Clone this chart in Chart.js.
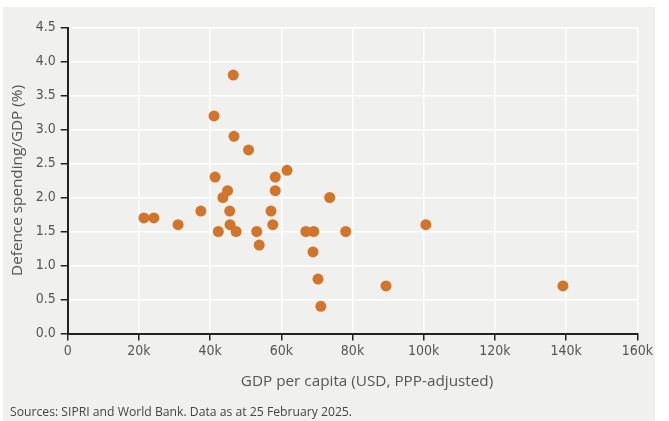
<!DOCTYPE html>
<html>
<head>
<meta charset="utf-8">
<script src="https://cdn.jsdelivr.net/npm/chart.js"></script>
<style>
  html, body { margin: 0; padding: 0; background: #fff; }
  #panel {
    position: absolute; left: 3px; top: 7px;
    width: 652px; height: 414px;
    background: #f0f0ee;
  }
  #chart { position: absolute; left: 0; top: 0; }
  #xtitle {
    position: absolute; left: 64px; top: 363px; width: 600px;
    text-align: center; line-height: 20px;
    font: 15.3px "Open Sans", sans-serif; color: #555;
    white-space: nowrap;
  }
  #source {
    position: absolute; left: 7px; top: 396px;
    font: 12.2px "Open Sans", sans-serif; color: #444;
    white-space: nowrap;
  }
</style>
</head>
<body>
<div id="panel">
  <canvas id="chart" width="652" height="414"></canvas>
  <div id="xtitle">GDP per capita (USD, PPP-adjusted)</div>
  <div id="source">Sources: SIPRI and World Bank. Data as at 25 February 2025.</div>
</div>
<script>
// one point per country: GDP per capita (USD, PPP) and defence spending as % of GDP
const gdpPerCapita = [
  21400, 24200, 31000, 37400, 41100, 41400, 42300, 43600, 44900, 46500, 46700,
  45500, 45600, 47300, 50800, 53100, 53800, 57100, 57600, 58300, 58300, 61600,
  66900, 69100, 68900, 70300, 71100, 73600, 78100, 89400, 100600, 139100
];
const defenceShare = [
  1.7, 1.7, 1.6, 1.8, 3.2, 2.3, 1.5, 2.0, 2.1, 3.8, 2.9,
  1.8, 1.6, 1.5, 2.7, 1.5, 1.3, 1.8, 1.6, 2.3, 2.1, 2.4,
  1.5, 1.5, 1.2, 0.8, 0.4, 2.0, 1.5, 0.7, 1.6, 0.7
];

const xTicks = [0, 20000, 40000, 60000, 80000, 100000, 120000, 140000, 160000];
const xTickLabels = ['0', '20k', '40k', '60k', '80k', '100k', '120k', '140k', '160k'];
const yTicks = [0, 0.5, 1, 1.5, 2, 2.5, 3, 3.5, 4, 4.5];

const tickFont = { family: '"DejaVu Sans Condensed", "DejaVu Sans", sans-serif', size: 14 };
const titleFont = { family: '"Open Sans", sans-serif', size: 15.3 };
const axisDark = '#222';

const points = gdpPerCapita.map((x, i) => ({ x: x, y: defenceShare[i] }));

new Chart(document.getElementById('chart'), {
  type: 'scatter',
  data: {
    datasets: [{
      data: points,
      backgroundColor: '#d2752b',
      borderWidth: 0,
      pointRadius: 5.5,
      pointHoverRadius: 5.5
    }]
  },
  options: {
    responsive: false,
    animation: false,
    events: [],
    layout: { padding: { left: 0, top: 20.5, right: 17.5, bottom: 32.7 } },
    plugins: {
      legend: { display: false },
      tooltip: { enabled: false }
    },
    scales: {
      x: {
        type: 'linear',
        min: 0,
        max: 160000,
        afterBuildTicks: s => { s.ticks = xTicks.map(v => ({ value: v })); },
        afterFit: s => { s.height = 54.8; },
        ticks: {
          color: '#555',
          font: tickFont,
          padding: 2,
          maxRotation: 0,
          callback: (v) => xTickLabels[xTicks.indexOf(v)]
        },
        grid: { color: '#fff', lineWidth: 1.5, tickColor: axisDark, tickLength: 7, tickWidth: 1.5 },
        border: { color: axisDark, width: 2 },
        title: { display: false }
      },
      y: {
        type: 'linear',
        min: 0,
        max: 4.5,
        afterBuildTicks: s => { s.ticks = yTicks.map(v => ({ value: v })); },
        afterFit: s => { s.width = 64.7; },
        ticks: {
          color: '#555',
          font: tickFont,
          padding: 5,
          callback: v => v.toFixed(1)
        },
        grid: { color: '#fff', lineWidth: 1.5, tickColor: axisDark, tickLength: 7, tickWidth: 1.5 },
        border: { color: axisDark, width: 2 },
        title: {
          display: true,
          text: 'Defence spending/GDP (%)',
          color: '#555',
          font: titleFont,
          padding: { top: 5.8, bottom: 0 }
        }
      }
    }
  }
});
</script>
</body>
</html>
